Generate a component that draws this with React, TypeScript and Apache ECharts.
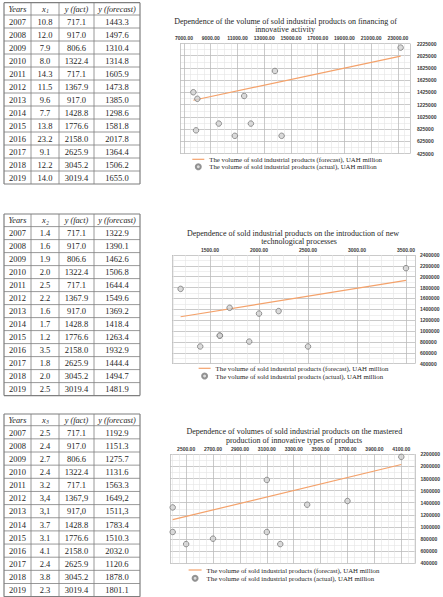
import React, { useEffect, useRef } from "react";
import * as echarts from "echarts";

// ---------------- DATA ----------------
const years = ["2007", "2008", "2009", "2010", "2011", "2012", "2013", "2014", "2015", "2016", "2017", "2018", "2019"];

const x1Text = ["10.8", "12.0", "7.9", "8.0", "14.3", "11.5", "9.6", "7.7", "13.8", "23.2", "9.1", "12.2", "14.0"];
const fact1Text = ["717.1", "917.0", "806.6", "1322.4", "717.1", "1367.9", "917.0", "1428.8", "1776.6", "2158.0", "2625.9", "3045.2", "3019.4"];
const forecast1Text = ["1443.3", "1497.6", "1310.4", "1314.8", "1605.9", "1473.8", "1385.0", "1298.6", "1581.8", "2017.8", "1364.4", "1506.2", "1655.0"];

const x2Text = ["1.4", "1.6", "1.9", "2.0", "2.5", "2.2", "1.6", "1.7", "1.2", "3.5", "1.8", "2.0", "2.5"];
const fact2Text = ["717.1", "917.0", "806.6", "1322.4", "717.1", "1367.9", "917.0", "1428.8", "1776.6", "2158.0", "2625.9", "3045.2", "3019.4"];
const forecast2Text = ["1322.9", "1390.1", "1462.6", "1506.8", "1644.4", "1549.6", "1369.2", "1418.4", "1263.4", "1932.9", "1444.4", "1494.7", "1481.9"];

const x3Text = ["2.5", "2.4", "2.7", "2.4", "3.2", "3,4", "3,1", "3.7", "3.1", "4.1", "2.4", "3.8", "2.3"];
const fact3Text = ["717.1", "917.0", "806.6", "1322.4", "717.1", "1367,9", "917,0", "1428.8", "1776.6", "2158.0", "2625.9", "3045.2", "3019.4"];
const forecast3Text = ["1192.9", "1151.3", "1275.7", "1131.6", "1563.3", "1649,2", "1511,3", "1783.4", "1510.3", "2032.0", "1120.6", "1878.0", "1801.1"];

const tableHeader = ["Years", "x", "y (fact)", "y (forecast)"];
const xSubscripts = ["1", "2", "3"];

const chartTitles = [
  ["Dependence of the volume of sold industrial products on financing of", "innovative activity"],
  ["Dependence of sold industrial products on the introduction of new", "technological processes"],
  ["Dependence of volumes of sold industrial products on the mastered", "production of innovative types of products"],
];

const NAME_F = "The volume of sold industrial products (forecast), UAH million";
const NAME_A = "The volume of sold industrial products (actual), UAH million";

// tick labels (axis units: table values x 1000)
const x1Ticks = [7000, 9000, 11000, 13000, 15000, 17000, 19000, 21000, 23000];
const y1Ticks = [425000, 625000, 825000, 1025000, 1225000, 1425000, 1625000, 1825000, 2025000, 2225000];
const x2Ticks = [1500, 2000, 2500, 3000, 3500];
const y2Ticks = [400000, 600000, 800000, 1000000, 1200000, 1400000, 1600000, 1800000, 2000000, 2200000, 2400000];
const x3Ticks = [2500, 2700, 2900, 3100, 3300, 3500, 3700, 3900, 4100];
const y3Ticks = [400000, 600000, 800000, 1000000, 1200000, 1400000, 1600000, 1800000, 2000000, 2200000];

// the forecast (regression) line in the picture spans the 2007–2018 rows
const lineYearCount = 12;

// ---------------- LAYOUT ----------------
const layouts = [
  {
    tableTop: 2.7, headerH: 12.3, rowH: 13.0,
    title: [{ x: 285.5, y: 21 }, { x: 285, y: 29.4 }],
    grid: { left: 180, right: 33, top: 43.5, bottom: 443.3 },
    xMin: 6701, xMax: 23900, yLabelMargin: 7, xLabelMargin: 3,
    legend: { left: 191.7, top: 155.6, itemWidth: 12, itemGap: 0 },
  },
  {
    tableTop: 214, headerH: 12.6, rowH: 13.0,
    title: [{ x: 293, y: 233.2 }, { x: 299, y: 241.6 }],
    grid: { left: 172, right: 28, top: 255, bottom: 233.3 },
    xMin: 1112, xMax: 3592, yLabelMargin: 5, xLabelMargin: 2.6,
    legend: { left: 198, top: 364.6, itemWidth: 12, itemGap: 0.3 },
  },
  {
    tableTop: 414, headerH: 11.7, rowH: 13.15,
    title: [{ x: 294.3, y: 431.7 }, { x: 294, y: 440 }],
    grid: { left: 170, right: 26.3, top: 454.3, bottom: 33.7 },
    xMin: 2380, xMax: 4206, yLabelMargin: 5, xLabelMargin: 3,
    legend: { left: 188, top: 566.3, itemWidth: 13, itemGap: 0.9 },
  },
];

const tableCols = [4, 31, 59, 94, 140];
const SERIF = "Liberation Serif";
const TEXT = "#262626";
const LINE_COLOR = "#F4A26B";

const num = (s: string) => parseFloat(s.replace(",", "."));

const datasets = [
  { x: x1Text, fact: fact1Text, fc: forecast1Text, xt: x1Ticks, yt: y1Ticks },
  { x: x2Text, fact: fact2Text, fc: forecast2Text, xt: x2Ticks, yt: y2Ticks },
  { x: x3Text, fact: fact3Text, fc: forecast3Text, xt: x3Ticks, yt: y3Ticks },
];

function txt(x: number, y: number, text: string, size: number, italic = false, align = "center"): any {
  return {
    type: "text",
    x,
    y,
    silent: true,
    style: {
      text,
      fill: TEXT,
      fontFamily: SERIF,
      fontSize: size,
      fontStyle: italic ? "italic" : "normal",
      align,
      textAlign: align,
      verticalAlign: "middle",
      textVerticalAlign: "middle",
    },
  };
}

function ln(x1: number, y1: number, x2: number, y2: number, w = 0.8): any {
  return {
    type: "line",
    silent: true,
    shape: { x1, y1, x2, y2 },
    style: { stroke: "#7f7f7f", lineWidth: w },
  };
}

function tableElements(i: number): any[] {
  const L = layouts[i];
  const d = datasets[i];
  const els: any[] = [];
  const top = L.tableTop;
  const bodyTop = top + L.headerH;
  const bottom = bodyTop + years.length * L.rowH;
  els.push(ln(tableCols[0], top, tableCols[4], top, 1.2));
  for (let r = 0; r <= years.length; r++) {
    const y = bodyTop + r * L.rowH;
    els.push(ln(tableCols[0], y, tableCols[4], y, r === years.length ? 1.2 : 0.8));
  }
  tableCols.forEach((cx, k) => {
    els.push(ln(cx, top, cx, bottom, k === 0 || k === 4 ? 1.2 : 0.8));
  });
  const centers = tableCols.slice(0, 4).map((c, k) => (c + tableCols[k + 1]) / 2);
  const hy = top + L.headerH / 2 + 0.3;
  els.push(txt(centers[0], hy, tableHeader[0], 8.3, true));
  els.push(txt(centers[1] - 1.2, hy - 0.3, tableHeader[1], 8.5, true));
  els.push(txt(centers[1] + 2.6, hy + 2.2, xSubscripts[i], 5.2, true));
  els.push(txt(centers[2], hy, tableHeader[2], 8.3, true));
  els.push(txt(centers[3], hy, tableHeader[3], 8.3, true));
  years.forEach((yr, r) => {
    const cy = bodyTop + r * L.rowH + L.rowH / 2 + 0.3;
    els.push(txt(centers[0], cy, yr, 8.5));
    els.push(txt(centers[1], cy, d.x[r], 8.5));
    els.push(txt(centers[2], cy, d.fact[r], 8.5));
    els.push(txt(centers[3], cy, d.fc[r], 8.5));
  });
  return els;
}

function buildOption(): any {
  const grids: any[] = [];
  const xAxes: any[] = [];
  const yAxes: any[] = [];
  const series: any[] = [];
  const legends: any[] = [];
  const graphics: any[] = [];

  layouts.forEach((L, i) => {
    const d = datasets[i];
    const xInt = d.xt[1] - d.xt[0];
    const off = ((d.xt[0] % xInt) + xInt) % xInt;
    const yInt = d.yt[1] - d.yt[0];

    grids.push({ ...L.grid, containLabel: false });

    xAxes.push({
      type: "value",
      gridIndex: i,
      position: "top",
      min: L.xMin - off,
      max: L.xMax - off,
      splitNumber: Math.round((L.xMax - L.xMin) / xInt),
      minInterval: xInt,
      maxInterval: xInt,
      axisLine: { show: false },
      axisTick: { show: false },
      axisLabel: {
        fontSize: 5,
        fontWeight: "bold",
        fontFamily: "Liberation Sans",
        color: "#3a3a3a",
        margin: L.xLabelMargin,
        formatter: (v: number) => {
          const real = Math.round(v + off);
          return d.xt.some((t) => Math.abs(t - real) < 1e-6) ? real.toFixed(2) : "";
        },
      },
      splitLine: { show: true, lineStyle: { color: "#bdbdbd", width: 0.8 } },
      minorTick: { show: false, splitNumber: 4 },
      minorSplitLine: { show: true, lineStyle: { color: "#e4e4e4", width: 0.6 } },
    });

    yAxes.push({
      type: "value",
      gridIndex: i,
      position: "right",
      min: d.yt[0],
      max: d.yt[d.yt.length - 1],
      interval: yInt,
      axisLine: { show: false },
      axisTick: { show: false },
      axisLabel: {
        fontSize: 5,
        fontWeight: "bold",
        fontFamily: "Liberation Sans",
        color: "#3a3a3a",
        margin: L.yLabelMargin,
        formatter: (v: number) => String(Math.round(v)),
      },
      splitLine: { show: true, lineStyle: { color: "#bdbdbd", width: 0.8 } },
      minorTick: { show: false, splitNumber: 2 },
      minorSplitLine: { show: true, lineStyle: { color: "#e4e4e4", width: 0.6 } },
    });

    // forecast rows 2007–2018, as [x, forecast], sorted by x; the straight
    // regression line runs between the forecasts at the smallest and largest x
    const fcPts = d.x
      .slice(0, lineYearCount)
      .map((xs, k) => [Math.round(num(xs) * 1000) - off, Math.round(num(d.fc[k]) * 1000)])
      .sort((a, b) => a[0] - b[0] || a[1] - b[1]);
    const linePts = [fcPts[0], fcPts[fcPts.length - 1]];

    series.push({
      type: "line",
      name: NAME_F,
      xAxisIndex: i,
      yAxisIndex: i,
      data: linePts,
      symbol: "none",
      showSymbol: false,
      clip: true,
      lineStyle: { color: LINE_COLOR, width: 1.2 },
      itemStyle: { color: LINE_COLOR },
      z: 2,
    });

    series.push({
      type: "scatter",
      name: NAME_A,
      xAxisIndex: i,
      yAxisIndex: i,
      data: d.x.map((xs, k) => [Math.round(num(xs) * 1000) - off, Math.round(num(d.fact[k]) * 1000)]),
      symbol: "circle",
      symbolSize: 5.5,
      clip: true,
      itemStyle: { color: "#d2d2d2", borderColor: "#7a7a7a", borderWidth: 1 },
      z: 3,
    });

    legends.push({
      orient: "vertical",
      left: L.legend.left,
      top: L.legend.top,
      padding: 0,
      itemWidth: L.legend.itemWidth,
      itemHeight: 5,
      itemGap: L.legend.itemGap,
      selectedMode: false,
      data: [
        {
          name: NAME_F,
          icon: "line",
          itemStyle: { color: LINE_COLOR, borderColor: LINE_COLOR, borderWidth: 1.2 },
        },
        { name: NAME_A },
      ],
      textStyle: { fontFamily: SERIF, fontSize: 6.8, color: TEXT, lineHeight: 7.4 },
    });

    chartTitles[i].forEach((t, k) => {
      graphics.push(txt(L.title[k].x, L.title[k].y, t, 8));
    });
    graphics.push(...tableElements(i));
  });

  return {
    animation: false,
    backgroundColor: "#ffffff",
    grid: grids,
    xAxis: xAxes,
    yAxis: yAxes,
    series,
    legend: legends,
    graphic: { elements: graphics },
  };
}

export default function App() {
  const ref = useRef<HTMLDivElement>(null);
  useEffect(() => {
    if (!ref.current) return;
    const chart = echarts.init(ref.current, null, { renderer: "svg", width: 443, height: 597 });
    chart.setOption(buildOption());
    return () => chart.dispose();
  }, []);
  return (
    <div
      ref={ref}
      style={{ position: "absolute", left: 0, top: 0, width: 443, height: 597, background: "#fff" }}
    />
  );
}
